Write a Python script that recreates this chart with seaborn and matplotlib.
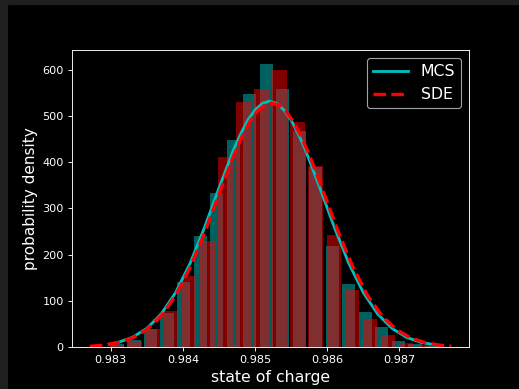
import numpy as np
import matplotlib
matplotlib.use('Agg')
import matplotlib.pyplot as plt
from matplotlib.patches import Rectangle
import seaborn as sns

# -> DATA

# both histograms use 20 bins over their own sample range
n_bins = 20
mcs_bin_range = (0.98298, 0.98756)
sde_bin_range = (0.98271, 0.98772)

mcs_hist = [8, 15, 40, 75, 142, 241, 333, 449, 547, 612,
            558, 468, 390, 220, 136, 77, 44, 14, 7, 3]
sde_hist = [1, 4, 14, 39, 78, 155, 229, 412, 531, 558,
            599, 488, 392, 243, 123, 61, 27, 10, 4, 1.5]

# fitted density curves
mcs_x = [0.98298, 0.98310, 0.98330, 0.98350, 0.98370, 0.98390, 0.98410, 0.98430,
         0.98450, 0.98470, 0.98480, 0.98490, 0.98500, 0.98510, 0.98520, 0.98530,
         0.98540, 0.98550, 0.98560, 0.98570, 0.98590, 0.98610, 0.98630, 0.98650,
         0.98670, 0.98690, 0.98710, 0.98730, 0.98756]
mcs_pdf = [6.7, 10.5, 21.5, 40.8, 72, 118.5, 181.5, 259,
           344, 426, 461, 491, 513, 527, 532, 527,
           513, 491, 461, 426, 344, 259, 181.5, 118.5,
           72, 40.8, 21.5, 10.5, 3.8]

sde_x = [0.98271, 0.98290, 0.98310, 0.98330, 0.98350, 0.98370, 0.98390, 0.98410,
         0.98430, 0.98450, 0.98470, 0.98483, 0.98493, 0.98503, 0.98513, 0.98523,
         0.98533, 0.98543, 0.98553, 0.98563, 0.98576, 0.98596, 0.98616, 0.98636,
         0.98656, 0.98676, 0.98696, 0.98716, 0.98736, 0.98756, 0.98772]
sde_pdf = [2.0, 4.5, 9.9, 20.1, 38.2, 67.8, 111.8, 172.2,
           247, 331, 412.7, 459, 488, 510, 523, 528,
           523, 510, 488, 459, 412.7, 331, 247, 172.2,
           111.8, 67.8, 38.2, 20.1, 9.9, 4.5, 2.3]

# -> PLOT

plt.style.use('dark_background')

fig = plt.figure(figsize=(519 / 81, 389 / 81), dpi=81)
ax = fig.add_axes([0.1382, 0.1072, 0.7661, 0.7643])

# grey window frame on the left / top edge of the screenshot
fig.patches.append(Rectangle((0, 0), 7 / 519, 1, transform=fig.transFigure,
                             color='#1f1f1f', zorder=-1))
fig.patches.append(Rectangle((0, 1 - 4 / 389), 1, 4 / 389, transform=fig.transFigure,
                             color='#1f1f1f', zorder=-1))

mcs_edges = np.linspace(*mcs_bin_range, n_bins + 1)
sde_edges = np.linspace(*sde_bin_range, n_bins + 1)
mcs_centers = (mcs_edges[:-1] + mcs_edges[1:]) / 2
sde_centers = (sde_edges[:-1] + sde_edges[1:]) / 2

sns.histplot(x=mcs_centers, weights=np.array(mcs_hist, dtype=float),
             bins=n_bins, binrange=mcs_bin_range,
             color='c', alpha=0.5, shrink=0.8, edgecolor='none', linewidth=0, ax=ax)
sns.histplot(x=sde_centers, weights=np.array(sde_hist, dtype=float),
             bins=n_bins, binrange=sde_bin_range,
             color='r', alpha=0.5, shrink=0.8, edgecolor='none', linewidth=0, ax=ax)

sns.lineplot(x=mcs_x, y=mcs_pdf, color='c', linewidth=2.5, label='MCS', ax=ax)
sns.lineplot(x=sde_x, y=sde_pdf, color='r', linewidth=3, linestyle='--', label='SDE', ax=ax)

ax.ticklabel_format(axis='x', useOffset=False)
ax.set_xlabel('state of charge', fontsize=14)
ax.set_ylabel('probability density', fontsize=13.5)
ax.legend(loc='upper right', fontsize=14, handlelength=2.2)

fig.savefig('out.png', dpi=81)
